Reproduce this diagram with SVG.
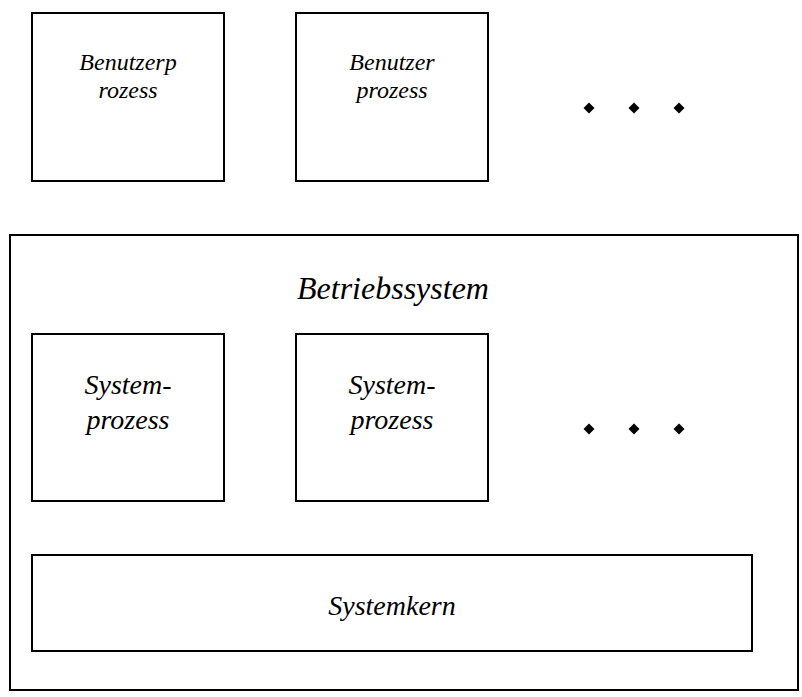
<svg xmlns="http://www.w3.org/2000/svg" width="802" height="697" viewBox="0 0 802 697">
<style>
.box{fill:#fff;stroke:#000;stroke-width:2}
.t{font-family:"Liberation Serif","DejaVu Serif",serif;font-style:italic;font-size:24px;fill:#000;text-anchor:middle}
.mid{font-size:28px}
.big{font-size:32px}
.dot{fill:#000}
</style>
<defs>
<polygon id="dm" points="0,-5.5 5.5,0 0,5.5 -5.5,0"/>
</defs>
<rect width="802" height="697" fill="#fff"/>
<g id="benutzer1">
<rect class="box" x="32" y="13" width="192" height="168"/>
<text class="t" x="128" y="70">Benutzerp</text>
<text class="t" x="128" y="98">rozess</text>
</g>
<g id="benutzer2">
<rect class="box" x="296" y="13" width="192" height="168"/>
<text class="t" x="392" y="70">Benutzer</text>
<text class="t" x="392" y="98">prozess</text>
</g>
<g id="dots-top">
<use href="#dm" class="dot" x="589" y="108"/>
<use href="#dm" class="dot" x="634" y="108"/>
<use href="#dm" class="dot" x="679" y="108"/>
</g>
<g id="betriebssystem">
<rect class="box" x="10" y="235" width="788" height="455"/>
<text class="t big" x="393" y="299">Betriebssystem</text>
</g>
<g id="system1">
<rect class="box" x="32" y="334" width="192" height="167"/>
<text class="t mid" x="128" y="394">System-</text>
<text class="t mid" x="128" y="429">prozess</text>
</g>
<g id="system2">
<rect class="box" x="296" y="334" width="192" height="167"/>
<text class="t mid" x="392" y="394">System-</text>
<text class="t mid" x="392" y="429">prozess</text>
</g>
<g id="dots-sys">
<use href="#dm" class="dot" x="589" y="429"/>
<use href="#dm" class="dot" x="634" y="429"/>
<use href="#dm" class="dot" x="679" y="429"/>
</g>
<g id="systemkern">
<rect class="box" x="32" y="555" width="720" height="96"/>
<text class="t mid" x="392" y="615">Systemkern</text>
</g>
<g id="connectors"></g>
</svg>
